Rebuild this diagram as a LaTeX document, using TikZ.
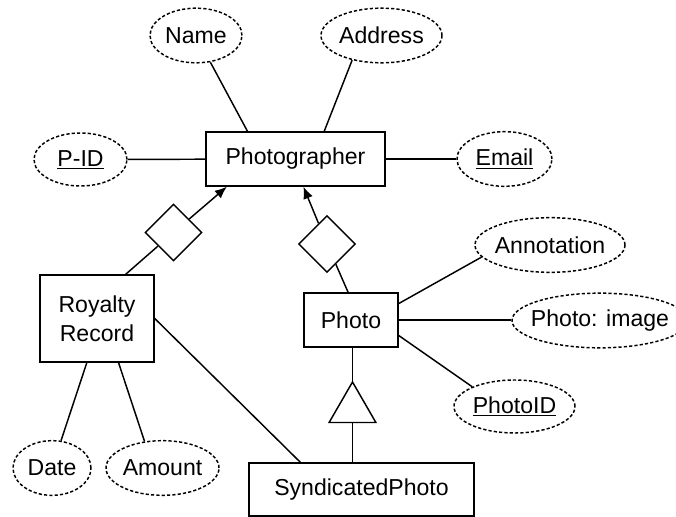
\documentclass[tikz,border=0pt]{standalone}
\usepackage{fontspec}
\setmainfont{Liberation Sans}
\usetikzlibrary{shapes.geometric, arrows.meta}
\tikzset{
  er entity/.style={
    draw, line width=1.1pt,     % plain box for entities
    inner sep=0pt, minimum height=40.5pt
  },
  er attribute/.style={
    draw, ellipse, line width=1.1pt,
    dash pattern=on 2.4pt off 1.6pt,  % dotted outline
    inner xsep=-6pt, inner ysep=0pt, minimum height=41pt
  },
  er relation/.style={draw, diamond, line width=1.1pt, inner sep=0pt, minimum size=42.75pt},
  er isa/.style={draw, regular polygon, regular polygon sides=3, line width=1.1pt, inner sep=0pt, minimum size=40.5pt},
  er link/.style={line width=1.1pt},
  er arrow/.style={line width=1.1pt, -{Latex[length=9pt,width=7.5pt]}}
}

\begin{document}
\begin{tikzpicture}[x=0.75pt, y=-0.75pt, font=\fontsize{17.3}{21.75}\selectfont]
    \useasboundingbox (0,0) rectangle (676,517);

    % Entities
    \node[er entity, minimum width=134.25pt] (photographer) at (295.5,159) {Photographer};
    \node[er entity, minimum width=85.5pt, minimum height=65.25pt, align=center] (royalty) at (97,318.5) {Royalty\\Record};
    \node[er entity, minimum width=70.5pt] (photo) at (351,320) {Photo};
    \node[er entity, minimum width=168.75pt, minimum height=39.75pt] (syndicated) at (361.5,489.5) {SyndicatedPhoto};

    % Attributes
    \node[er attribute, minimum width=69pt] (name) at (196,35.5) {Name};
    \node[er attribute, minimum width=90.75pt] (address) at (381.5,35.5) {Address};
    \node[er attribute, minimum width=69.75pt, minimum height=39.75pt] (pid) at (80.5,159.5) {\underline{P-ID}};
    \node[er attribute, minimum width=71.25pt] (email) at (504.5,159) {\underline{Email}};
    \node[er attribute, minimum width=112.5pt] (annotation) at (550,245) {Annotation};
    \node[er attribute, minimum width=132pt] (photo image) at (600,320.5) {Photo: image};
    \node[er attribute, minimum width=90.75pt, minimum height=39.75pt] (photoid) at (514.5,406.5) {\underline{PhotoID}};
    \node[er attribute, minimum width=58.5pt] (date) at (52,468) {Date};
    \node[er attribute, minimum width=84.75pt] (amount) at (162.5,468) {Amount};

    % Relationships and ISA
    \node[er relation] (rel royalty) at (173.5,232.5) {};
    \node[er relation] (rel photo) at (327,244) {};
    \node[er isa] (isa) at (352.5,409) {};

    % Attribute links
    \draw[er link] (pid) -- (photographer);
    \draw[er link] (photographer) -- (email);
    \draw[er link] (name) -- (photographer.150);
    \draw[er link] (address.220) -- (photographer.44);
    \draw[er link] (photo.19) -- (annotation.190);
    \draw[er link] (photo.east) -- (photo.east -| photo image.west);
    \draw[er link] (photo.342) -- (photoid.155);
    \draw[er link] (royalty.257) -- (date);
    \draw[er link] (royalty.296) -- (amount.124);

    % Relationship links
    \draw[er link] (royalty.57) -- (rel royalty);
    \draw[er arrow] (rel royalty) -- (photographer.202);
    \draw[er link] (photo.96) -- (rel photo);
    \draw[er arrow] (rel photo) -- (photographer.286);
    \draw[er link] (royalty.east) -- (syndicated.156);

    % ISA links
    \draw[er link] (isa.corner 1 |- photo.south) -- (isa.corner 1);
    \draw[er link] (isa.south) -- (isa.south |- syndicated.north);
\end{tikzpicture}
\end{document}
